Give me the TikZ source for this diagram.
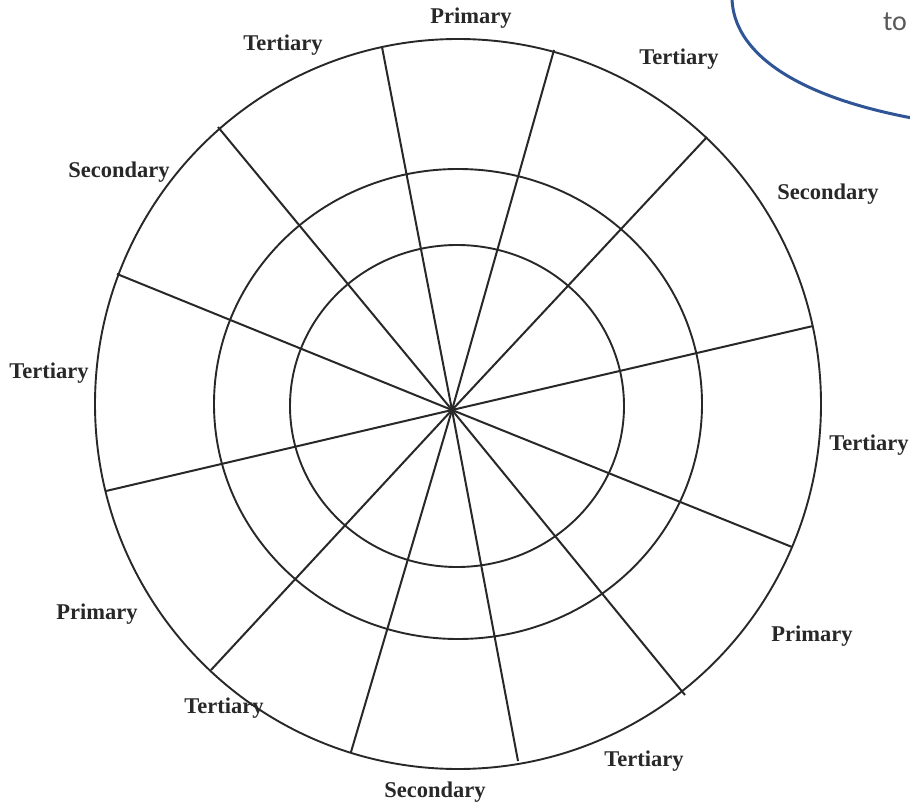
\documentclass[tikz,border=0pt]{standalone}
\usepackage{fontspec}
\setmainfont{Liberation Serif}
\newfontfamily\tofont{Carlito}
\definecolor{ink}{RGB}{40,40,40}
\definecolor{bubble}{RGB}{47,85,151}
\definecolor{totext}{RGB}{89,89,89}
\begin{document}
\begin{tikzpicture}[x=1pt,y=-1pt,
  ring/.style={draw=ink,line width=1.9pt},
  spoke/.style={draw=ink,line width=2pt},
  lbl/.style={text=ink,font=\fontsize{22.5}{26}\selectfont\bfseries,inner sep=0pt}]
\useasboundingbox (0,0) rectangle (910,805);
\fill[white] (0,0) rectangle (910,805);
% rings
\coordinate (C) at (458,404);
\draw[ring] (C) ellipse [x radius=363pt, y radius=365pt];
\draw[ring] (C) ellipse [x radius=244pt, y radius=235pt];
\draw[ring] (457,406) ellipse [x radius=167pt, y radius=161pt];
% spokes
\coordinate (O) at (452,410);
\coordinate (s1) at (382,47);
\coordinate (s2) at (554,50);
\coordinate (s3) at (707,137);
\coordinate (s4) at (813,326);
\coordinate (s5) at (792,547);
\coordinate (s6) at (685,695);
\coordinate (s7) at (518,761);
\coordinate (s8) at (351,752);
\coordinate (s9) at (211,670);
\coordinate (s10) at (106,491);
\coordinate (s11) at (117,274);
\coordinate (s12) at (218,127);
\foreach \i in {1,...,12} \draw[spoke] (O) -- (s\i);
% labels
\node[lbl] (l1) at (471,18) {Primary};
\node[lbl] (l2) at (679,59) {Tertiary};
\node[lbl] (l3) at (828,194) {Secondary};
\node[lbl] (l4) at (869,445) {Tertiary};
\node[lbl] (l5) at (812,636) {Primary};
\node[lbl] (l6) at (644,761) {Tertiary};
\node[lbl] (l7) at (435,792) {Secondary};
\node[lbl] (l8) at (224,708) {Tertiary};
\node[lbl] (l9) at (97,614) {Primary};
\node[lbl] (l10) at (49,373) {Tertiary};
\node[lbl] (l11) at (119,172) {Secondary};
\node[lbl] (l12) at (283,45) {Tertiary};
% callout fragment
\coordinate (b1) at (732,-2);
\coordinate (b2) at (912,118);
\draw[bubble,line width=3pt] (b1) .. controls (733,50) and (790,95) .. (b2);
\node[text=totext,font=\tofont\fontsize{28}{32}\selectfont,inner sep=0pt] (to) at (895,22) {to};
\end{tikzpicture}
\end{document}
